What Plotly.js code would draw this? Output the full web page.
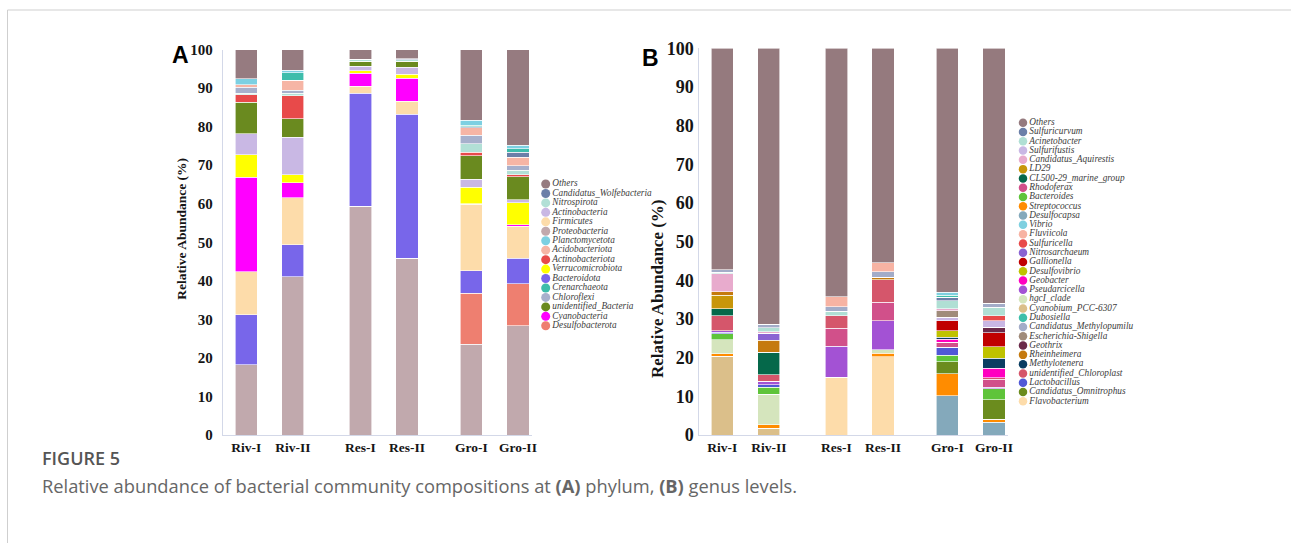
<!DOCTYPE html>
<html><head><meta charset="utf-8">
<script src="https://cdn.plot.ly/plotly-3.0.1.min.js"></script>
<style>html,body{margin:0;padding:0;background:#fff}#chart{width:1291px;height:543px}</style>
</head><body><div id="chart"></div>
<script>
// ---------- DATA ----------
const samples = ['Riv-I', 'Riv-II', 'Res-I', 'Res-II', 'Gro-I', 'Gro-II'];

// Panel A (phylum) – stack order, bottom to top
const phylumTaxa = ['Proteobacteria', 'Desulfobacterota', 'Bacteroidota', 'Firmicutes', 'Cyanobacteria',
  'Verrucomicrobiota', 'Actinobacteria', 'unidentified_Bacteria', 'Actinobacteriota', 'Nitrospirota',
  'Chloroflexi', 'Acidobacteriota', 'Candidatus_Wolfebacteria', 'Crenarchaeota', 'Planctomycetota', 'Others'];
const phylumRivI  = [18.2, 0,    13.0, 11.2, 24.5, 5.8, 5.5, 8.1, 2.0, 0.3, 1.6, 0.7, 0,   0,   1.5, 7.6];
const phylumRivII = [41.1, 0,    8.3,  12.2, 3.9,  2.0, 9.7, 4.9, 5.9, 0.7, 0.7, 2.6, 0,   2.0, 0.6, 5.4];
const phylumResI  = [59.3, 0,    29.4, 1.8,  3.4,  0.6, 1.2, 1.3, 0,   0.3, 0.2, 0,   0,   0,   0,   2.5];
const phylumResII = [45.9, 0,    37.3, 3.4,  6.0,  1.0, 1.8, 1.6, 0,   0.3, 0.3, 0,   0,   0,   0,   2.4];
const phylumGroI  = [23.6, 13.2, 5.8,  17.3, 0.1,  4.3, 2.0, 6.2, 0.8, 2.2, 2.2, 2.0, 0.3, 0.3, 1.4, 18.3];
const phylumGroII = [28.3, 10.9, 6.7,  8.2,  0.4,  5.7, 0.8, 6.0, 0.5, 1.2, 1.1, 2.3, 1.2, 0.9, 1.0, 24.8];
const phylumLegend = ['Others', 'Candidatus_Wolfebacteria', 'Nitrospirota', 'Actinobacteria', 'Firmicutes',
  'Proteobacteria', 'Planctomycetota', 'Acidobacteriota', 'Actinobacteriota', 'Verrucomicrobiota',
  'Bacteroidota', 'Crenarchaeota', 'Chloroflexi', 'unidentified_Bacteria', 'Cyanobacteria', 'Desulfobacterota'];

// Panel B (genus) – stack order, bottom to top
const genusTaxa = ['Flavobacterium', 'Cyanobium_PCC-6307', 'Desulfocapsa', 'Streptococcus', 'hgcI_clade',
  'Candidatus_Omnitrophus', 'Bacteroides', 'Lactobacillus', 'Pseudarcicella', 'Rhodoferax',
  'unidentified_Chloroplast', 'Geobacter', 'Methylotenera', 'Desulfovibrio', 'Gallionella', 'Geothrix',
  'CL500-29_marine_group', 'LD29', 'Rheinheimera', 'Nitrosarchaeum', 'Sulfurifustis', 'Sulfuricella',
  'Escherichia-Shigella', 'Candidatus_Aquirestis', 'Acinetobacter', 'Sulfuricurvum',
  'Candidatus_Methylopumilus', 'Fluviicola', 'Dubosiella', 'Vibrio', 'Others'];
//                 Fla   Cya   Dsc   Str  hgc  Omn  Bac  Lac  Pse  Rho  uCh  Geb  Mty  Dsv  Gal  Geo  CL5  LD2  Rhe  Nit  Sfu  Sce  Esc  Aqu  Aci  Scu  Mpu  Flu  Dub  Vib  Others
const genusRivI  = [0,    20.4, 0,    0.6, 3.6, 0,   1.6, 0.4, 0.3, 0,   3.9, 0,   0,   0,   0,   0,   1.9, 3.5, 0.9, 0,   0,   0,   0,   4.6, 0.4, 0,   0.6, 0,   0,   0,   57.3];
const genusRivII = [0,    1.8,  0,    0.8, 8.0, 0,   1.8, 0.6, 0.9, 0,   1.7, 0,   0,   0,   0,   0,   5.8, 0,   3.1, 1.8, 0,   0,   0,   0.4, 1.0, 0,   0.9, 0,   0,   0,   71.4];
const genusResI  = [15.0, 0,    0,    0,   0,   0,   0,   0,   8.0, 4.6, 3.3, 0,   0,   0,   0,   0,   0,   0,   0,   0,   0,   0,   0,   0,   1.1, 0,   1.2, 2.6, 0,   0,   64.2];
const genusResII = [20.2, 0,    0,    0.9, 0.9, 0,   0,   0,   7.5, 4.8, 5.9, 0,   0,   0,   0,   0,   0,   0,   0.6, 0,   0,   0,   0,   0,   0,   0,   1.4, 2.3, 0,   0,   55.5];
const genusGroI  = [0,    0,    10.1, 5.8, 0,   3.1, 1.6, 2.1, 0,   1.3, 0,   0.8, 0.5, 1.7, 2.6, 0,   0,   0,   0,   0,   0.8, 0,   1.7, 0.5, 2.1, 0.9, 0,   0,   0.5, 0.8, 63.1];
const genusGroII = [0,    0,    3.3,  0.8, 0,   5.0, 2.8, 0,   0.4, 2.1, 0.4, 2.4, 2.6, 3.0, 3.6, 1.5, 0,   0,   0,   0,   1.7, 1.3, 0,   0,   2.1, 0,   1.1, 0,   0,   0,   65.9];
const genusLegend = ['Others', 'Sulfuricurvum', 'Acinetobacter', 'Sulfurifustis', 'Candidatus_Aquirestis', 'LD29',
  'CL500-29_marine_group', 'Rhodoferax', 'Bacteroides', 'Streptococcus', 'Desulfocapsa', 'Vibrio', 'Fluviicola',
  'Sulfuricella', 'Nitrosarchaeum', 'Gallionella', 'Desulfovibrio', 'Geobacter', 'Pseudarcicella', 'hgcI_clade',
  'Cyanobium_PCC-6307', 'Dubosiella', 'Candidatus_Methylopumilu', 'Escherichia-Shigella', 'Geothrix',
  'Rheinheimera', 'Methylotenera', 'unidentified_Chloroplast', 'Lactobacillus', 'Candidatus_Omnitrophus',
  'Flavobacterium'];

// ---------- STYLES ----------
const phylumColors = {
  'Others': '#967b80', 'Candidatus_Wolfebacteria': '#6b7fa8', 'Nitrospirota': '#b2e0d6',
  'Actinobacteria': '#c9b8e4', 'Firmicutes': '#fddcaa', 'Proteobacteria': '#c1a9ad',
  'Planctomycetota': '#7dd0e2', 'Acidobacteriota': '#f6b5a5', 'Actinobacteriota': '#e84a4a',
  'Verrucomicrobiota': '#ffff00', 'Bacteroidota': '#7866ea', 'Crenarchaeota': '#3dbdab',
  'Chloroflexi': '#a7b0cc', 'unidentified_Bacteria': '#6a8a1f', 'Cyanobacteria': '#ff00ff',
  'Desulfobacterota': '#ee7f70'
};
const genusColors = {
  'Others': '#957a7e', 'Sulfuricurvum': '#6b7fa8', 'Acinetobacter': '#b0dfd4', 'Sulfurifustis': '#c9b7e4',
  'Candidatus_Aquirestis': '#e8abcd', 'LD29': '#c8960a', 'CL500-29_marine_group': '#05684a',
  'Rhodoferax': '#d1508a', 'Bacteroides': '#5fc43a', 'Streptococcus': '#ff8c00', 'Desulfocapsa': '#84a9bb',
  'Vibrio': '#7ed0e0', 'Fluviicola': '#f7b3a3', 'Sulfuricella': '#e84a4a', 'Nitrosarchaeum': '#8a63d2',
  'Gallionella': '#c00000', 'Desulfovibrio': '#bfc200', 'Geobacter': '#ff00c0', 'Pseudarcicella': '#a352d4',
  'hgcI_clade': '#d5e5bd', 'Cyanobium_PCC-6307': '#dbbf8a', 'Dubosiella': '#3dbfaa',
  'Candidatus_Methylopumilus': '#a3acc8', 'Candidatus_Methylopumilu': '#a3acc8',
  'Escherichia-Shigella': '#a08b7a', 'Geothrix': '#6b2a4a', 'Rheinheimera': '#c57a0e',
  'Methylotenera': '#0a3d62', 'unidentified_Chloroplast': '#d5566b', 'Lactobacillus': '#5058d6',
  'Candidatus_Omnitrophus': '#6b8c1e', 'Flavobacterium': '#fddcaa'
};

// ---------- LAYOUT HELPERS ----------
const W = 1291, H = 543;
const px = v => v / W;
const py = v => 1 - v / H;
const slots = [1, 2, 3.45, 4.45, 5.83, 6.83];   // grouped slot positions (pairs)
const serif = 'Liberation Serif, Times New Roman, serif';

const traces = [];
function addBars(taxa, rows, colors, xa, ya) {
  taxa.forEach((t, i) => {
    traces.push({
      type: 'bar', name: t, x: slots, y: rows.map(r => r[i]),
      width: 0.48, xaxis: xa, yaxis: ya, showlegend: false,
      marker: { color: colors[t], line: { color: 'rgba(255,255,255,0.85)', width: 0.7 } },
      hovertemplate: t + ': %{y}%<extra></extra>'
    });
  });
}
addBars(phylumTaxa, [phylumRivI, phylumRivII, phylumResI, phylumResII, phylumGroI, phylumGroII], phylumColors, 'x', 'y');
addBars(genusTaxa, [genusRivI, genusRivII, genusResI, genusResII, genusGroI, genusGroII], genusColors, 'x2', 'y2');

function addLegend(names, colors, xa, ya, msize, fsize) {
  traces.push({
    type: 'scatter', mode: 'markers+text', xaxis: xa, yaxis: ya, showlegend: false,
    x: names.map(() => 0), y: names.map((_, i) => i), text: names,
    textposition: 'middle right', cliponaxis: false, hoverinfo: 'skip',
    marker: { size: msize, color: names.map(n => colors[n]) },
    textfont: { family: serif, size: fsize, style: 'italic', color: '#3c3c3c' }
  });
}
addLegend(phylumLegend, phylumColors, 'x3', 'y3', 9, 9.3);
addLegend(genusLegend, genusColors, 'x4', 'y4', 8.5, 9.3);

const axisLine = '#d3d8e8';
function xAxis(dom, rng, anchor) {
  return {
    domain: dom, range: rng, anchor: anchor, tickvals: slots, ticktext: samples,
    tickfont: { family: serif, size: 13.5, color: '#151515', weight: 700 },
    showline: true, linecolor: axisLine, linewidth: 1, ticks: '', showgrid: false, zeroline: false, fixedrange: true
  };
}
function yAxis(dom, anchor, fs, tl) {
  return {
    domain: dom, range: [0, 100], anchor: anchor, dtick: 10,
    tickfont: { family: serif, size: fs, color: '#151515', weight: 700 },
    showline: true, linecolor: axisLine, linewidth: 1, ticks: 'outside', ticklen: tl,
    tickcolor: 'rgba(0,0,0,0)', showgrid: false, zeroline: false, fixedrange: true
  };
}
const hidden = (dom, rng) => ({ domain: dom, range: rng, visible: false, fixedrange: true });
const ann = (o) => Object.assign({ xref: 'paper', yref: 'paper', showarrow: false, xanchor: 'center', yanchor: 'middle' }, o);

const layout = {
  width: W, height: H, margin: { l: 0, r: 0, t: 0, b: 0 },
  paper_bgcolor: '#fff', plot_bgcolor: 'rgba(0,0,0,0)', barmode: 'stack', showlegend: false,
  xaxis: xAxis([px(222.7), px(532)], [0.4957, 7.133], 'y'),
  yaxis: yAxis([py(435), py(49.5)], 'x', 15, 6),
  xaxis2: xAxis([px(699.3), px(1008)], [0.5086, 7.133], 'y2'),
  yaxis2: yAxis([py(435), py(48.3)], 'x2', 18, 1),
  xaxis3: hidden([px(545.7), px(645.7)], [0, 100]),
  yaxis3: hidden([py(325.8), py(184)], [15, 0]),
  xaxis4: hidden([px(1023), px(1123)], [0, 100]),
  yaxis4: hidden([py(401.3), py(122.7)], [30, 0]),
  shapes: [
    { type: 'rect', xref: 'paper', yref: 'paper', x0: px(7.5), x1: 1.02, y0: -0.05, y1: py(10),
      line: { color: '#cfcfcf', width: 1 }, layer: 'below' }
  ],
  annotations: [
    ann({ text: 'A', x: px(180.3), y: py(55),
      font: { family: 'Liberation Sans, Arial, sans-serif', size: 23, weight: 700, color: '#000' } }),
    ann({ text: 'B', x: px(650), y: py(58),
      font: { family: 'Liberation Sans, Arial, sans-serif', size: 23, weight: 700, color: '#000' } }),
    ann({ text: 'Relative Abundance (%)', textangle: -90, x: px(181.7), y: py(229),
      font: { family: serif, size: 13.5, weight: 700, color: '#151515' } }),
    ann({ text: 'Relative Abundance (%)', textangle: -90, x: px(657), y: py(289),
      font: { family: serif, size: 17, weight: 700, color: '#151515' } }),
    ann({ text: 'FIGURE 5', x: px(40), y: py(458), xanchor: 'left',
      font: { family: 'Open Sans, sans-serif', size: 18, weight: 600, color: '#555' } }),
    ann({ text: 'Relative abundance of bacterial community compositions at <b>(A)</b> phylum, <b>(B)</b> genus levels.',
      x: px(40), y: py(485), xanchor: 'left',
      font: { family: 'Open Sans, sans-serif', size: 18.3, color: '#666' } })
  ]
};

Plotly.newPlot('chart', traces, layout, { displayModeBar: false });
</script>
</body></html>
